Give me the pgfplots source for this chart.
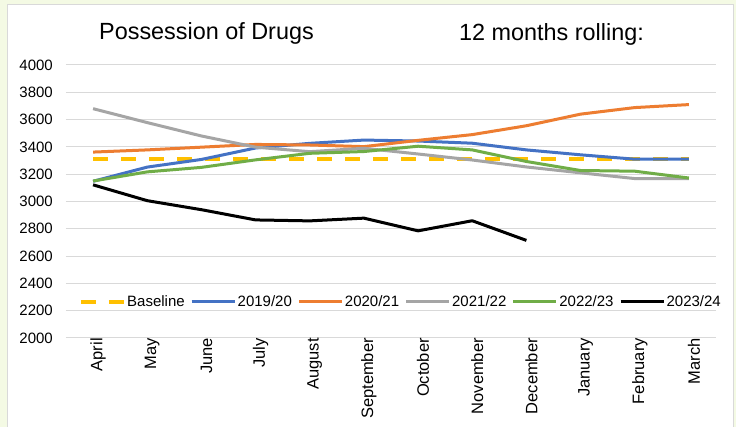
\documentclass[border=0pt]{standalone}
\usepackage{pgfplots}
\pgfplotsset{compat=1.18}
\usepackage{fontspec}
\setmainfont{Liberation Sans}

\definecolor{pagebg}{HTML}{F4FAE4}
\definecolor{panelline}{HTML}{D9D9D9}
\definecolor{gridc}{HTML}{D9D9D9}
\definecolor{cBase}{HTML}{FFC000}
\definecolor{c1920}{HTML}{4472C4}
\definecolor{c2021}{HTML}{ED7D31}
\definecolor{c2122}{HTML}{A5A5A5}
\definecolor{c2223}{HTML}{70AD47}
\definecolor{c2324}{HTML}{000000}

\begin{document}
\begin{tikzpicture}
% page background and white chart panel
\fill[pagebg] (0pt,0pt) rectangle (736pt,427pt);
\fill[white] (7pt,0pt) rectangle (733pt,422pt);
\draw[panelline, line width=1pt] (7pt,0pt) -- (7pt,422pt) -- (733pt,422pt) -- (733pt,0pt);
\useasboundingbox (0pt,0pt) rectangle (736pt,427pt);

\node[anchor=base west, inner sep=0pt, font=\fontsize{23.4}{27}\selectfont] at (99pt,387pt) {Possession of Drugs};
\node[anchor=base west, inner sep=0pt, font=\fontsize{23.4}{27}\selectfont] at (459pt,386pt) {12 months rolling:};

\begin{axis}[
  at={(66pt,89pt)}, anchor=south west,
  scale only axis, width=650pt, height=273pt,
  xmin=-0.5, xmax=11.5, ymin=2000, ymax=4000,
  ytick distance=200,
  xtick={0,...,11},
  xticklabels={April,May,June,July,August,September,October,November,December,January,February,March},
  axis line style={draw=none},
  major tick length=0pt,
  ymajorgrids, grid style={gridc, line width=1pt},
  /pgf/number format/assume math mode=true,
  /pgf/number format/1000 sep={},
  tick label style={black},
  yticklabel style={font=\fontsize{15}{17}\selectfont, anchor=east, inner sep=0pt, xshift=-13pt},
  xticklabel style={font=\fontsize{16.5}{18}\selectfont, rotate=90, anchor=east, inner sep=0pt, yshift=-5pt},
  legend columns=-1,
  legend style={at={(axis cs:5.68,2264)}, anchor=center, draw=none, fill=none,
    font=\fontsize{15}{17}\selectfont,
    nodes={inner sep=1.5pt},
    /tikz/every even column/.append style={column sep=4pt}},
  legend image code/.code={\draw[#1] (0pt,0pt) -- (43pt,0pt);},
  every axis plot/.append style={line width=3pt, line join=round},
]
\addplot[cBase, line width=3.5pt, dash pattern=on 15pt off 13pt] coordinates {
 (0,3312) (1,3312) (2,3312) (3,3312) (4,3312) (5,3312) (6,3312) (7,3312) (8,3312) (9,3312) (10,3312) (11,3312)};
\addlegendentry{Baseline}
\addplot[c1920] coordinates {
 (0,3148) (1,3252) (2,3308) (3,3392) (4,3426) (5,3450) (6,3443) (7,3427) (8,3378) (9,3342) (10,3310) (11,3310)};
\addlegendentry{2019/20}
\addplot[c2021] coordinates {
 (0,3362) (1,3378) (2,3398) (3,3418) (4,3414) (5,3402) (6,3448) (7,3490) (8,3555) (9,3640) (10,3688) (11,3710)};
\addlegendentry{2020/21}
\addplot[c2122] coordinates {
 (0,3680) (1,3578) (2,3480) (3,3398) (4,3365) (5,3390) (6,3348) (7,3304) (8,3253) (9,3210) (10,3168) (11,3168)};
\addlegendentry{2021/22}
\addplot[c2223] coordinates {
 (0,3150) (1,3217) (2,3250) (3,3305) (4,3353) (5,3366) (6,3405) (7,3378) (8,3293) (9,3227) (10,3222) (11,3172)};
\addlegendentry{2022/23}
\addplot[c2324] coordinates {
 (0,3122) (1,3006) (2,2940) (3,2865) (4,2858) (5,2878) (6,2785) (7,2859) (8,2715)};
\addlegendentry{2023/24}
\end{axis}
\end{tikzpicture}
\end{document}
